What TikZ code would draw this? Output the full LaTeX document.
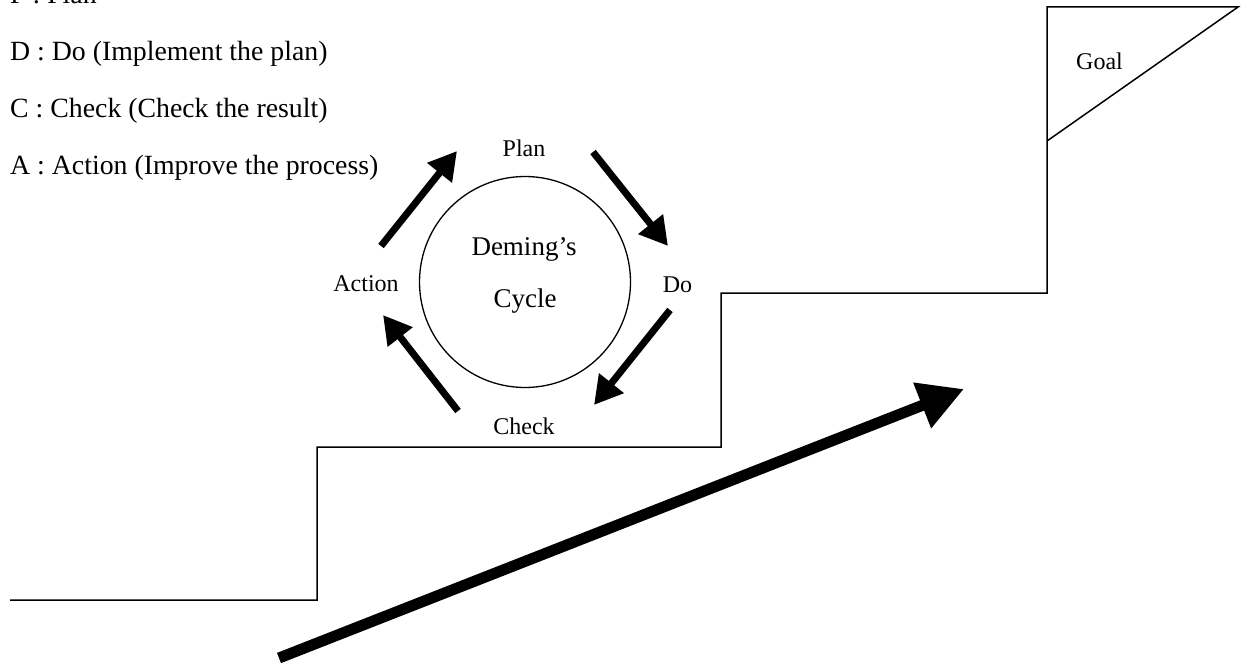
\documentclass[tikz,border=0pt]{standalone}
\usepackage{fontspec}
\setmainfont{Liberation Serif}
\usetikzlibrary{arrows.meta}
\begin{document}
\begin{tikzpicture}[x=1pt,y=-1pt,
  stepline/.style={line width=1.5pt, line join=miter},
  cycarrow/.style={line width=7pt, -{Triangle[length=28pt,width=30pt]}},
  bigarrow/.style={line width=11pt, -{Triangle[length=45pt,width=46pt]}},
  hdr/.style={font=\fontsize{27.8}{30}\selectfont, anchor=base west, inner sep=0pt},
  lbl/.style={font=\fontsize{24}{26}\selectfont, anchor=base, inner sep=0pt},
  midtext/.style={font=\fontsize{27}{30}\selectfont, anchor=base, inner sep=0pt}]
\useasboundingbox (0,0) rectangle (1247,666);
% legend
\node[hdr] (p) at (10,4) {P : Plan};
\node[hdr] (d) at (10,61) {D : Do (Implement the plan)};
\node[hdr] (c) at (10,118) {C : Check (Check the result)};
\node[hdr] (a) at (10,175) {A : Action (Improve the process)};
% cycle
\node[circle, draw, line width=1.3pt, minimum size=211pt, inner sep=0pt] (cyc) at (525,282) {};
\node[midtext] (dem) at (524,255) {Deming’s};
\node[midtext] (cyl) at (525,307) {Cycle};
\node[lbl] (plan) at (524,157) {Plan};
\node[lbl] (do) at (677.5,292) {Do};
\node[lbl] (check) at (524,434) {Check};
\node[lbl] (action) at (366,291) {Action};
% arrow end points
\coordinate (pd1) at (593,152); \coordinate (pd2) at (668,246);
\coordinate (dc1) at (670,310); \coordinate (dc2) at (594,405);
\coordinate (ca1) at (458,411); \coordinate (ca2) at (383,315);
\coordinate (ap1) at (381,246); \coordinate (ap2) at (457,151);
\draw[cycarrow] (pd1) -- (pd2);
\draw[cycarrow] (dc1) -- (dc2);
\draw[cycarrow] (ca1) -- (ca2);
\draw[cycarrow] (ap1) -- (ap2);
% steps and flag
\coordinate (s0) at (10,600);
\coordinate (s1) at (317,600);
\coordinate (s2) at (317,447);
\coordinate (s3) at (721,447);
\coordinate (s4) at (721,293);
\coordinate (s5) at (1047,293);
\coordinate (s6) at (1047,7);
\coordinate (f1) at (1238,7);
\coordinate (f2) at (1047,141);
\draw[stepline] (s0) -- (s1) -- (s2) -- (s3) -- (s4) -- (s5) -- (s6) -- (f1) -- (f2);
\node[lbl] (goal) at (1099.5,70) {Goal};
% big arrow
\coordinate (b1) at (279,658);
\coordinate (b2) at (964,389);
\draw[bigarrow] (b1) -- (b2);
\end{tikzpicture}
\end{document}
